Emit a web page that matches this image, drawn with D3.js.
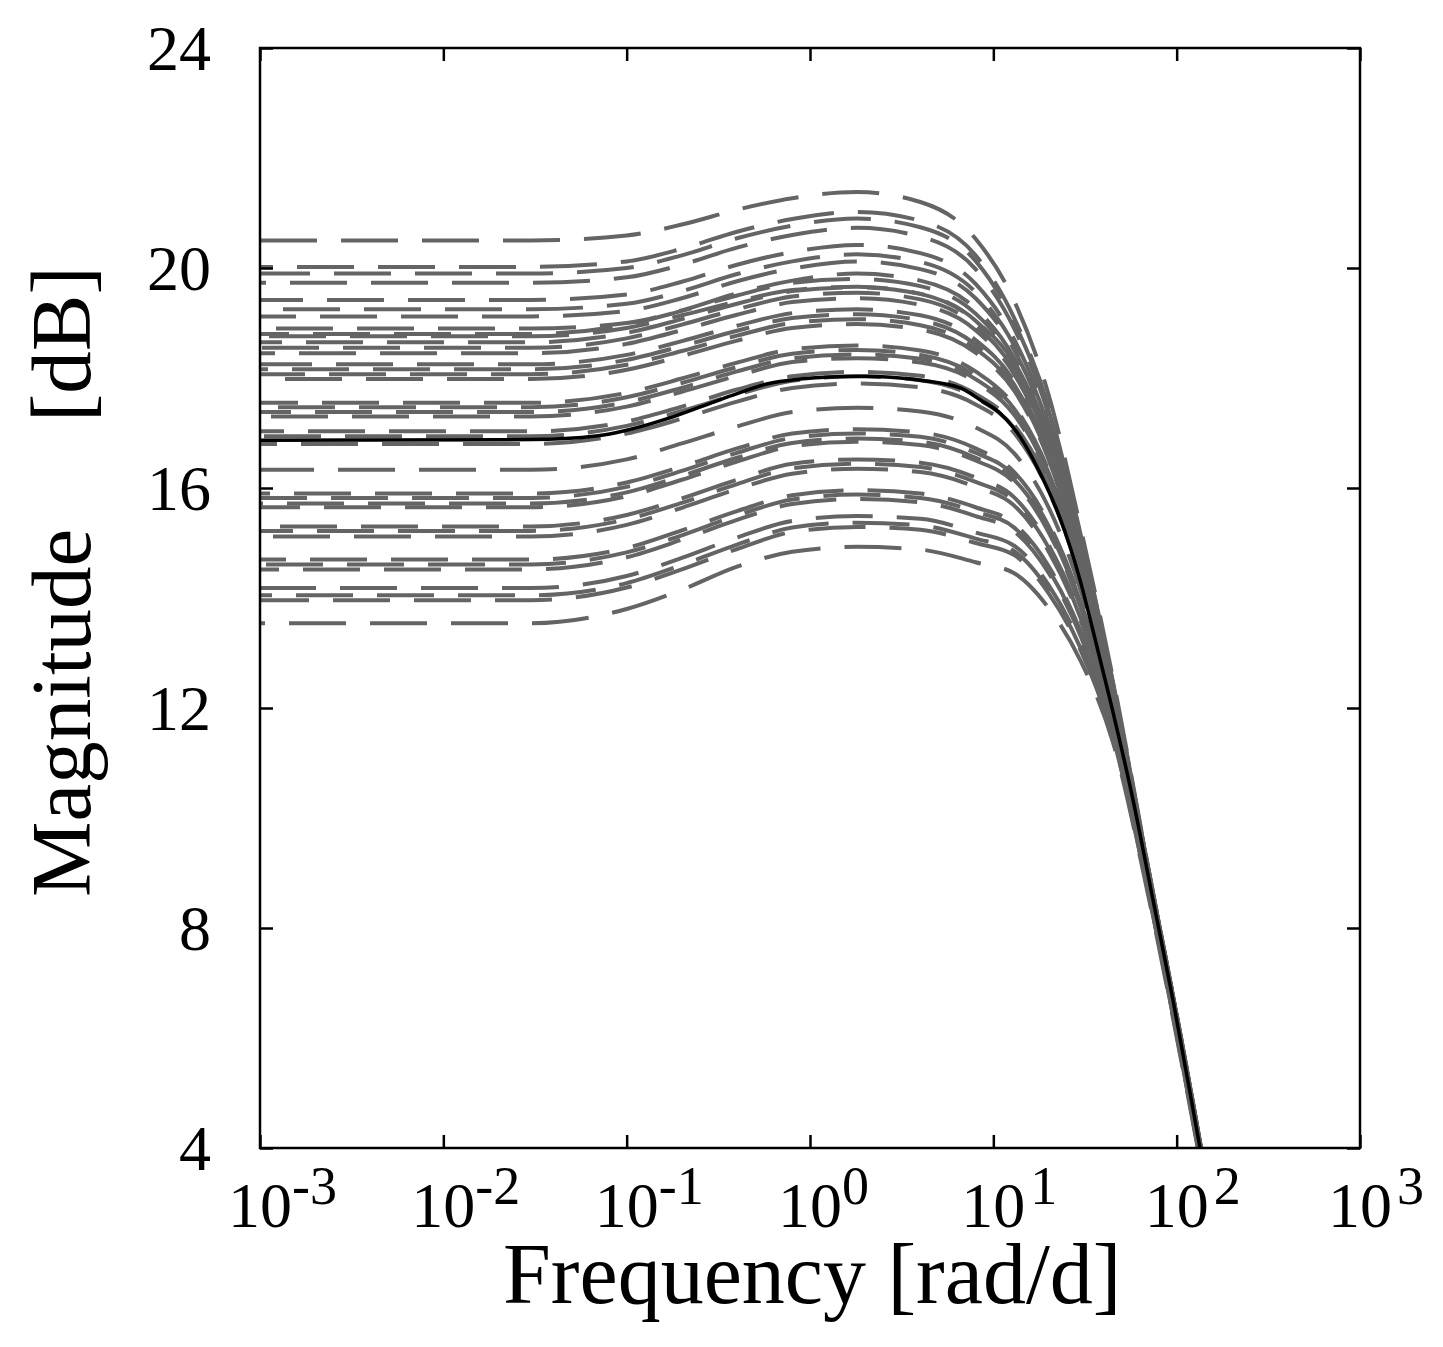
<!DOCTYPE html>
<html><head><meta charset="utf-8">
<script src="https://cdn.jsdelivr.net/npm/d3@7"></script>
<style>html,body{margin:0;padding:0;background:#fff}</style>
</head><body>
<svg id="c" width="1443" height="1347"></svg>
<script>
// ---- data ----
const freqGrid = [0.001, 0.03, 0.1, 0.2, 0.4, 0.8, 1.8, 4, 8, 13, 20, 30, 45, 70, 110, 150];
const dashedMag = [
 [20.50,20.50,20.59,20.79,21.06,21.27,21.38,21.20,20.53,19.40,17.70,15.26,12.53,9.10,5.70,3.20],
 [20.02,20.02,20.12,20.35,20.66,20.89,21.02,20.86,20.23,19.09,17.48,15.14,12.46,9.08,5.69,3.19],
 [19.90,19.90,20.00,20.23,20.54,20.77,20.90,20.74,20.13,19.01,17.42,15.11,12.44,9.08,5.68,3.19],
 [19.73,19.73,19.83,20.06,20.37,20.60,20.73,20.57,19.98,18.90,17.34,15.07,12.42,9.07,5.68,3.19],
 [19.42,19.42,19.52,19.75,20.06,20.29,20.42,20.27,19.71,18.70,17.19,15.00,12.37,9.06,5.67,3.18],
 [19.25,19.25,19.35,19.58,19.89,20.12,20.25,20.11,19.56,18.59,17.12,14.96,12.34,9.06,5.66,3.18],
 [19.12,19.12,19.22,19.45,19.76,19.99,20.12,19.98,19.45,18.51,17.05,14.93,12.32,9.05,5.66,3.18],
 [18.90,18.90,19.00,19.23,19.54,19.77,19.90,19.77,19.26,18.36,16.95,14.87,12.29,9.04,5.65,3.17],
 [18.80,18.80,18.97,19.22,19.50,19.73,19.80,19.67,19.17,18.30,16.90,14.85,12.28,9.04,5.65,3.17],
 [18.76,18.76,18.91,19.14,19.39,19.60,19.66,19.53,19.04,18.27,16.89,14.84,12.27,9.04,5.65,3.17],
 [18.65,18.65,18.82,19.07,19.35,19.58,19.65,19.53,19.04,18.20,16.83,14.81,12.25,9.03,5.64,3.17],
 [18.55,18.55,18.72,18.97,19.25,19.48,19.55,19.43,18.95,18.14,16.79,14.79,12.24,9.03,5.64,3.17],
 [18.45,18.45,18.62,18.87,19.15,19.38,19.45,19.33,18.87,18.07,16.74,14.76,12.22,9.03,5.64,3.17],
 [18.25,18.25,18.42,18.67,18.95,19.18,19.25,19.14,18.69,17.94,16.65,14.71,12.20,9.02,5.63,3.16],
 [18.16,18.16,18.33,18.58,18.86,19.09,19.16,19.05,18.61,17.88,16.60,14.69,12.18,9.02,5.63,3.16],
 [18.07,18.07,18.24,18.49,18.77,19.00,19.07,18.96,18.53,17.83,16.56,14.67,12.17,9.01,5.63,3.16],
 [17.98,17.98,18.15,18.40,18.68,18.91,18.98,18.88,18.46,17.77,16.52,14.65,12.16,9.01,5.62,3.16],
 [17.55,17.55,17.73,17.99,18.28,18.52,18.59,18.50,18.12,17.49,16.32,14.54,12.09,8.99,5.61,3.15],
 [17.47,17.47,17.65,17.91,18.20,18.44,18.51,18.42,18.05,17.44,16.28,14.53,12.08,8.99,5.61,3.15],
 [17.38,17.38,17.56,17.82,18.12,18.36,18.43,18.35,17.98,17.38,16.24,14.50,12.07,8.99,5.61,3.15],
 [17.30,17.30,17.48,17.75,18.04,18.29,18.36,18.28,17.93,17.33,16.20,14.48,12.05,8.99,5.60,3.15],
 [17.03,17.03,17.21,17.48,17.79,18.03,18.11,18.04,17.71,17.15,16.07,14.42,12.01,8.98,5.59,3.14],
 [16.94,16.94,17.13,17.40,17.70,17.95,18.03,17.96,17.64,17.09,16.03,14.40,12.00,8.97,5.59,3.14],
 [16.80,16.80,16.99,17.26,17.57,17.82,17.90,17.83,17.52,17.00,15.95,14.35,11.98,8.96,5.58,3.13],
 [16.33,16.33,16.52,16.81,17.12,17.38,17.46,17.39,17.10,16.63,15.65,14.13,11.89,8.91,5.54,3.10],
 [15.90,15.90,16.10,16.39,16.72,16.99,17.07,17.01,16.72,16.29,15.37,13.93,11.81,8.86,5.51,3.07],
 [15.82,15.82,16.02,16.31,16.64,16.91,16.99,16.93,16.64,16.23,15.31,13.90,11.79,8.85,5.50,3.06],
 [15.72,15.72,15.92,16.22,16.55,16.82,16.90,16.84,16.55,16.15,15.25,13.85,11.78,8.84,5.49,3.06],
 [15.65,15.65,15.85,16.15,16.48,16.76,16.84,16.78,16.50,16.10,15.20,13.82,11.76,8.83,5.48,3.05],
 [15.30,15.30,15.51,15.81,16.15,16.44,16.52,16.46,16.19,15.83,14.97,13.66,11.70,8.79,5.45,3.03],
 [15.22,15.22,15.43,15.73,16.07,16.36,16.44,16.38,16.11,15.76,14.92,13.62,11.68,8.78,5.45,3.02],
 [15.12,15.12,15.33,15.64,15.98,16.26,16.35,16.29,16.02,15.68,14.85,13.58,11.66,8.77,5.44,3.01],
 [14.70,14.70,14.91,15.23,15.58,15.87,15.96,15.90,15.65,15.35,14.58,13.38,11.59,8.72,5.40,2.98],
 [14.61,14.61,14.83,15.14,15.50,15.79,15.88,15.82,15.57,15.28,14.52,13.34,11.57,8.71,5.39,2.98],
 [14.52,14.52,14.74,15.06,15.42,15.71,15.80,15.74,15.49,15.21,14.46,13.30,11.55,8.70,5.39,2.97],
 [14.18,14.18,14.40,14.73,15.10,15.40,15.49,15.44,15.19,14.95,14.24,13.14,11.49,8.66,5.36,2.95],
 [14.05,14.05,14.27,14.60,14.97,15.28,15.37,15.32,15.08,14.85,14.15,13.08,11.46,8.65,5.34,2.94],
 [13.96,13.96,14.19,14.52,14.89,15.20,15.29,15.24,15.00,14.78,14.09,13.04,11.45,8.64,5.34,2.93],
 [13.54,13.54,13.80,14.15,14.57,14.84,14.93,14.88,14.65,14.45,13.82,12.85,11.37,8.59,5.30,2.90]
];
const nominalFreq = [0.001,0.03,0.07,0.1,0.17,0.25,0.38,0.58,0.88,1.3,2,3.1,4,6.6,8.5,10.9,14,18,23,29.7,35,43.3,57.8,74.3,95.5,123,150];
const nominalMag  = [16.87,16.88,16.95,17.05,17.27,17.47,17.69,17.89,17.98,18.02,18.03,18.0,17.96,17.82,17.6,17.36,16.93,16.27,15.47,14.33,13.4,12.15,10.33,8.51,6.69,4.69,3.1];
const yTicks = [4, 8, 12, 16, 20, 24];
const xTickExponents = [-3, -2, -1, 0, 1, 2, 3];
const xTitle = "Frequency [rad/d]";
const yTitleMain = "Magnitude";
const yTitleUnit = "[dB]";

// ---- drawing ----
const FONT = '"Liberation Serif","Times New Roman",Times,serif';
const svg = d3.select('#c');
svg.append('rect').attr('width',1443).attr('height',1347).attr('fill','#fff');
const L = 260, R = 1360, T = 48, B = 1148;
const x = d3.scaleLog().domain([1e-3, 1e3]).range([L, R]);
const y = d3.scaleLinear().domain([4, 24]).range([B, T]);

svg.append('clipPath').attr('id','clip').append('rect')
  .attr('x',L).attr('y',T).attr('width',R-L).attr('height',B-T);
const line = d3.line().x(d => x(d[0])).y(d => y(d[1])).curve(d3.curveMonotoneX);
const plot = svg.append('g').attr('clip-path','url(#clip)');

dashedMag.forEach((vals, i) => {
  plot.append('path')
    .datum(freqGrid.map((f, j) => [f, vals[j]]))
    .attr('d', line)
    .attr('fill','none')
    .attr('stroke','#646464')
    .attr('stroke-width',4)
    .attr('stroke-dasharray','57,24')
    .attr('stroke-dashoffset', -((i * 37) % 81));
});
plot.append('path')
  .datum(nominalFreq.map((f, j) => [f, nominalMag[j]]))
  .attr('d', line)
  .attr('fill','none')
  .attr('stroke','#000')
  .attr('stroke-width',3.5);

// axes with inward ticks on all four sides
const xt = xTickExponents.map(e => Math.pow(10, e));
function styleAxis(g){
  g.select('.domain').remove();
  g.selectAll('.tick line').attr('stroke','#000').attr('stroke-width',2.5);
}
svg.append('g').attr('transform',`translate(0,${B})`)
  .call(d3.axisBottom(x).tickValues(xt).tickSize(-13).tickFormat(''))
  .call(styleAxis);
svg.append('g').attr('transform',`translate(0,${T})`)
  .call(d3.axisTop(x).tickValues(xt).tickSize(-13).tickFormat(''))
  .call(styleAxis);
const yl = svg.append('g').attr('transform',`translate(${L},0)`)
  .call(d3.axisLeft(y).tickValues(yTicks).tickSize(-13).tickPadding(49).tickFormat(d3.format('d')))
  .call(styleAxis);
yl.selectAll('text').attr('font-family',FONT).attr('font-size',64).attr('fill','#000').attr('dy','0.34em');
svg.append('g').attr('transform',`translate(${R},0)`)
  .call(d3.axisRight(y).tickValues(yTicks).tickSize(-13).tickFormat(''))
  .call(styleAxis);

svg.append('rect').attr('x',L).attr('y',T).attr('width',R-L).attr('height',B-T)
  .attr('fill','none').attr('stroke','#000').attr('stroke-width',2.5);

// x tick labels 10^e (one text element per label, exponent as raised tspan)
const xl = svg.append('g').attr('font-family',FONT).attr('fill','#000');
xTickExponents.forEach(e => {
  const px = x(Math.pow(10, e));
  const t = xl.append('text').attr('x', px - 32).attr('y', 1227).attr('font-size', 64);
  t.append('tspan').text('10');
  t.append('tspan').attr('dx', e > 0 ? 5 : 0).attr('dy', -23).attr('font-size', 54).text(String(e));
});

// titles
svg.append('text').attr('x',503).attr('y',1303).attr('font-family',FONT)
  .attr('font-size',86).attr('fill','#000').text(xTitle);
const yt = svg.append('text').attr('transform','rotate(-90)')
  .attr('x',-897).attr('y',90).attr('font-family',FONT).attr('font-size',85).attr('fill','#000');
yt.append('tspan').text(yTitleMain);
yt.append('tspan').attr('x',-422).text(yTitleUnit);
</script>
</body></html>
